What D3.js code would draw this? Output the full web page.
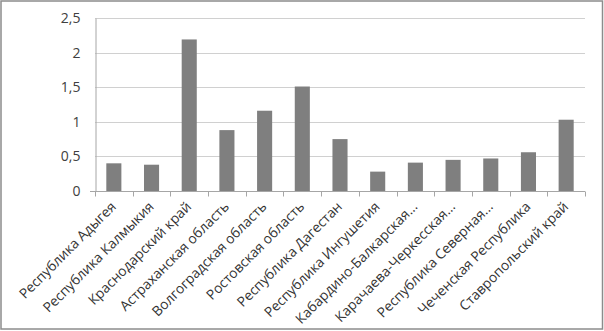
<!DOCTYPE html>
<html><head><meta charset="utf-8">
<script src="https://cdn.jsdelivr.net/npm/d3@7"></script>
<style>
html,body{margin:0;padding:0;background:#fff;}
svg{display:block;}
text{font-family:"Open Sans","DejaVu Sans",sans-serif;}
</style></head>
<body>
<script>
const categories = ["Республика Адыгея","Республика Калмыкия","Краснодарский край","Астраханская область","Волгоградская область","Ростовская область","Республика Дагестан","Республика Ингушетия","Кабардино-Балкарская...","Карачаева-Черкесская...","Республика Северная...","Чеченская Республика","Ставропольский край"];
const values = [0.40,0.38,2.19,0.88,1.16,1.51,0.75,0.28,0.41,0.45,0.47,0.56,1.03];
const yTicks = [0,0.5,1,1.5,2,2.5];
const yTickLabels = ["0","0,5","1","1,5","2","2,5"];

const W=604,H=331;
const m={left:95,right:19,top:18,bottom:140};
const svg=d3.select("body").append("svg").attr("width",W).attr("height",H);
svg.append("rect").attr("x",1).attr("y",1).attr("width",W-2.5).attr("height",H-3)
  .attr("fill","#fff").attr("stroke","#8c8c8c").attr("stroke-width",1.5);

const x=d3.scaleBand().domain(categories).range([m.left,W-m.right]).paddingInner(0.6).paddingOuter(0.3);
const y=d3.scaleLinear().domain([0,2.5]).range([H-m.bottom,m.top]);

const g=svg.append("g");
g.selectAll("line.grid").data(yTicks.slice(1)).join("line")
  .attr("x1",m.left).attr("x2",W-m.right)
  .attr("y1",d=>Math.round(y(d))+0.5).attr("y2",d=>Math.round(y(d))+0.5)
  .attr("stroke","#d0d0d0").attr("stroke-width",1);

g.selectAll("rect.bar").data(values).join("rect")
  .attr("x",(d,i)=>x(categories[i])).attr("width",x.bandwidth())
  .attr("y",d=>y(d)).attr("height",d=>y(0)-y(d))
  .attr("fill","#7f7f7f");

const yAxis=d3.axisLeft(y).tickValues(yTicks).tickFormat((d,i)=>yTickLabels[i]).tickSize(0).tickPadding(15);
const ya=svg.append("g").attr("transform",`translate(${m.left+0.5},0)`).call(yAxis);
ya.select(".domain").attr("stroke","#a6a6a6");
ya.selectAll("text").attr("font-size",14).attr("fill","#404040");

const xa=svg.append("g").attr("transform",`translate(0,${Math.round(y(0))+0.5})`);
xa.append("line").attr("x1",m.left).attr("x2",W-m.right).attr("stroke","#a6a6a6");
const tickPos=d3.range(categories.length+1).map(i=>m.left+i*(W-m.left-m.right)/categories.length);
xa.selectAll("line.tk").data(tickPos).join("line")
  .attr("x1",d=>Math.round(d)+0.5).attr("x2",d=>Math.round(d)+0.5).attr("y1",0).attr("y2",5)
  .attr("stroke","#a6a6a6");
xa.append("line").attr("x1",m.left-5).attr("x2",m.left).attr("stroke","#a6a6a6");
xa.selectAll("text").data(categories).join("text")
  .attr("transform",d=>`translate(${x(d)+x.bandwidth()/2+3},16) rotate(-45)`)
  .attr("text-anchor","end").attr("font-size",13.8).attr("fill","#333")
  .text(d=>d);
</script>
</body></html>
